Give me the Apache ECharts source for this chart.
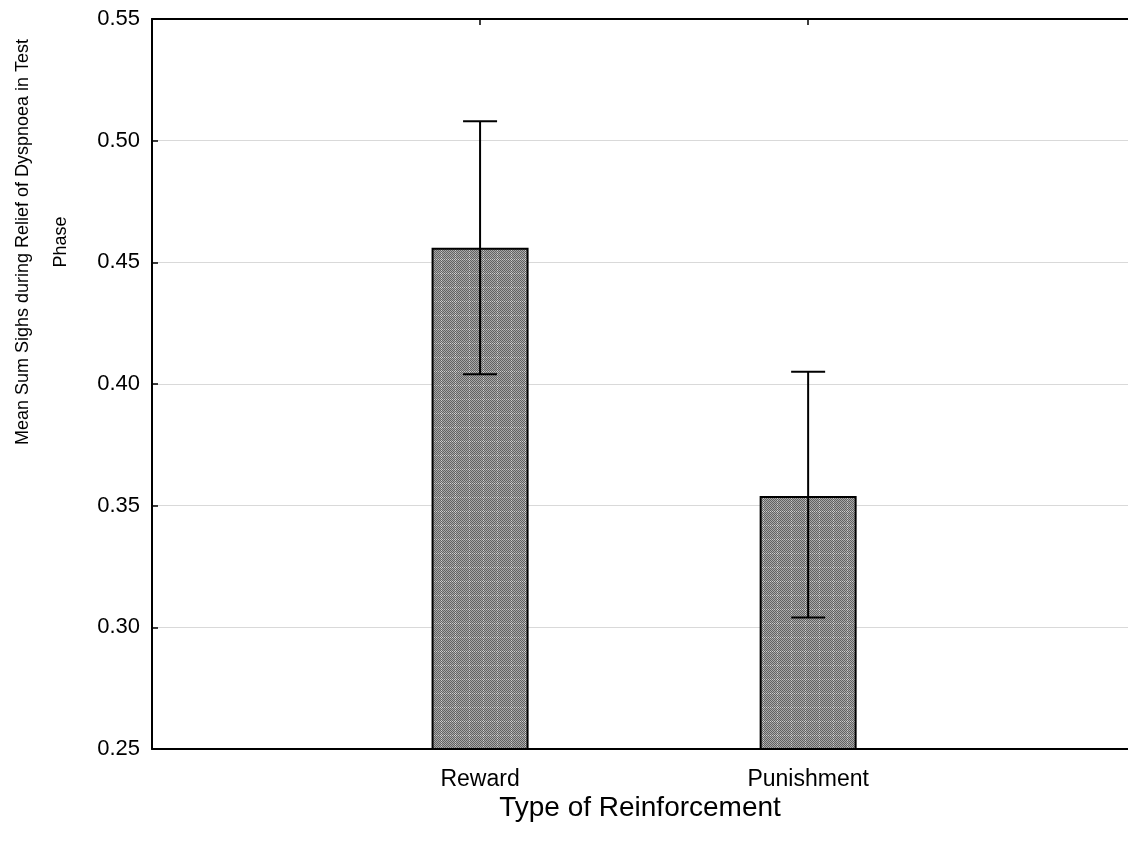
<!DOCTYPE html>
<html>
<head>
<meta charset="utf-8">
<script src="https://cdn.jsdelivr.net/npm/echarts@6/dist/echarts.min.js"></script>
<style>
  html, body { margin: 0; padding: 0; background: #fff; }
  #chart { width: 1128px; height: 850px; }
</style>
</head>
<body>
<div id="chart"></div>
<script>
// data
const categories = ['Reward', 'Punishment']
const categoryPos = [1, 2]
const means = [0.456, 0.354]
const errLow = [0.404, 0.304]
const errHigh = [0.508, 0.405]
const yMin = 0.25
const yMax = 0.55
const yStep = 0.05
// x range: categories at 1 and 2, plot cut off a little before 3
const xMin = 0
const xMax = 2.975

const font = '"Liberation Sans", Arial, sans-serif'

// gray checkered fill like the original bars
function makePattern() {
  const c = document.createElement('canvas')
  const n = 14
  c.width = n
  c.height = n
  const ctx = c.getContext('2d')
  for (let y = 0; y < n; y++) {
    for (let x = 0; x < n; x++) {
      let col = (x + y) % 2 === 0 ? '#626262' : '#a8a8a8'
      if ((x === 7 || y === 7) && (x + y) % 2 === 1) col = '#cccccc'
      ctx.fillStyle = col
      ctx.fillRect(x, y, 1, 1)
    }
  }
  return c
}

const chart = echarts.init(document.getElementById('chart'), null, { renderer: 'canvas' })

const barData = categoryPos.map((p, i) => [p, means[i]])
const errData = categoryPos.map((p, i) => [p, errLow[i], errHigh[i]])

const tickStyle = { color: '#000', width: 1.5 }

const option = {
  backgroundColor: '#fff',
  animation: false,
  grid: { left: 152, top: 19, right: 0, bottom: 101, containLabel: false },
  xAxis: [
    {
      type: 'value',
      min: xMin,
      max: xMax,
      position: 'bottom',
      axisLine: { lineStyle: { color: '#000', width: 2 } },
      axisTick: { inside: true, length: 6, lineStyle: tickStyle, customValues: categoryPos },
      splitLine: { show: false },
      axisLabel: {
        color: '#000',
        fontSize: 23,
        fontFamily: font,
        margin: 19,
        customValues: categoryPos,
        formatter: v => categories[categoryPos.indexOf(v)] || ''
      },
      name: 'Type of Reinforcement',
      nameLocation: 'middle',
      nameGap: 45,
      nameMoveOverlap: false,
      nameTextStyle: { color: '#000', fontSize: 28, fontFamily: font, verticalAlign: 'top' }
    },
    {
      type: 'value',
      min: xMin,
      max: xMax,
      position: 'top',
      axisLine: { lineStyle: { color: '#000', width: 2 } },
      axisTick: { inside: true, length: 6, lineStyle: tickStyle, customValues: categoryPos },
      splitLine: { show: false },
      axisLabel: { show: false }
    }
  ],
  yAxis: {
    type: 'value',
    min: yMin,
    max: yMax,
    interval: yStep,
    axisLine: { show: true, lineStyle: { color: '#000', width: 2 } },
    axisTick: { show: true, inside: true, length: 6, lineStyle: tickStyle },
    splitLine: { show: true, lineStyle: { color: '#d9d9d9', width: 1 } },
    axisLabel: {
      color: '#000',
      fontSize: 22,
      fontFamily: font,
      margin: 12,
      formatter: v => v.toFixed(2)
    }
  },
  graphic: [
    {
      type: 'text',
      x: 42,
      y: 242,
      rotation: Math.PI / 2,
      style: {
        text: 'Mean Sum Sighs during Relief of Dyspnoea in Test\nPhase',
        font: '18px ' + font,
        fill: '#000',
        align: 'center',
        verticalAlign: 'middle',
        lineHeight: 38
      }
    }
  ],
  series: [
    {
      type: 'bar',
      xAxisIndex: 0,
      data: barData,
      barWidth: 97,
      itemStyle: {
        color: { image: makePattern(), repeat: 'repeat' },
        borderColor: '#000',
        borderWidth: 2
      }
    },
    {
      type: 'custom',
      xAxisIndex: 0,
      data: errData,
      z: 10,
      renderItem: function (params, api) {
        const x = api.value(0)
        const lo = api.coord([x, api.value(1)])
        const hi = api.coord([x, api.value(2)])
        const half = 17
        const style = { stroke: '#000', lineWidth: 2 }
        return {
          type: 'group',
          children: [
            { type: 'line', shape: { x1: lo[0], y1: lo[1], x2: hi[0], y2: hi[1] }, style },
            { type: 'line', shape: { x1: hi[0] - half, y1: hi[1], x2: hi[0] + half, y2: hi[1] }, style },
            { type: 'line', shape: { x1: lo[0] - half, y1: lo[1], x2: lo[0] + half, y2: lo[1] }, style }
          ]
        }
      }
    }
  ]
}

chart.setOption(option)
</script>
</body>
</html>
